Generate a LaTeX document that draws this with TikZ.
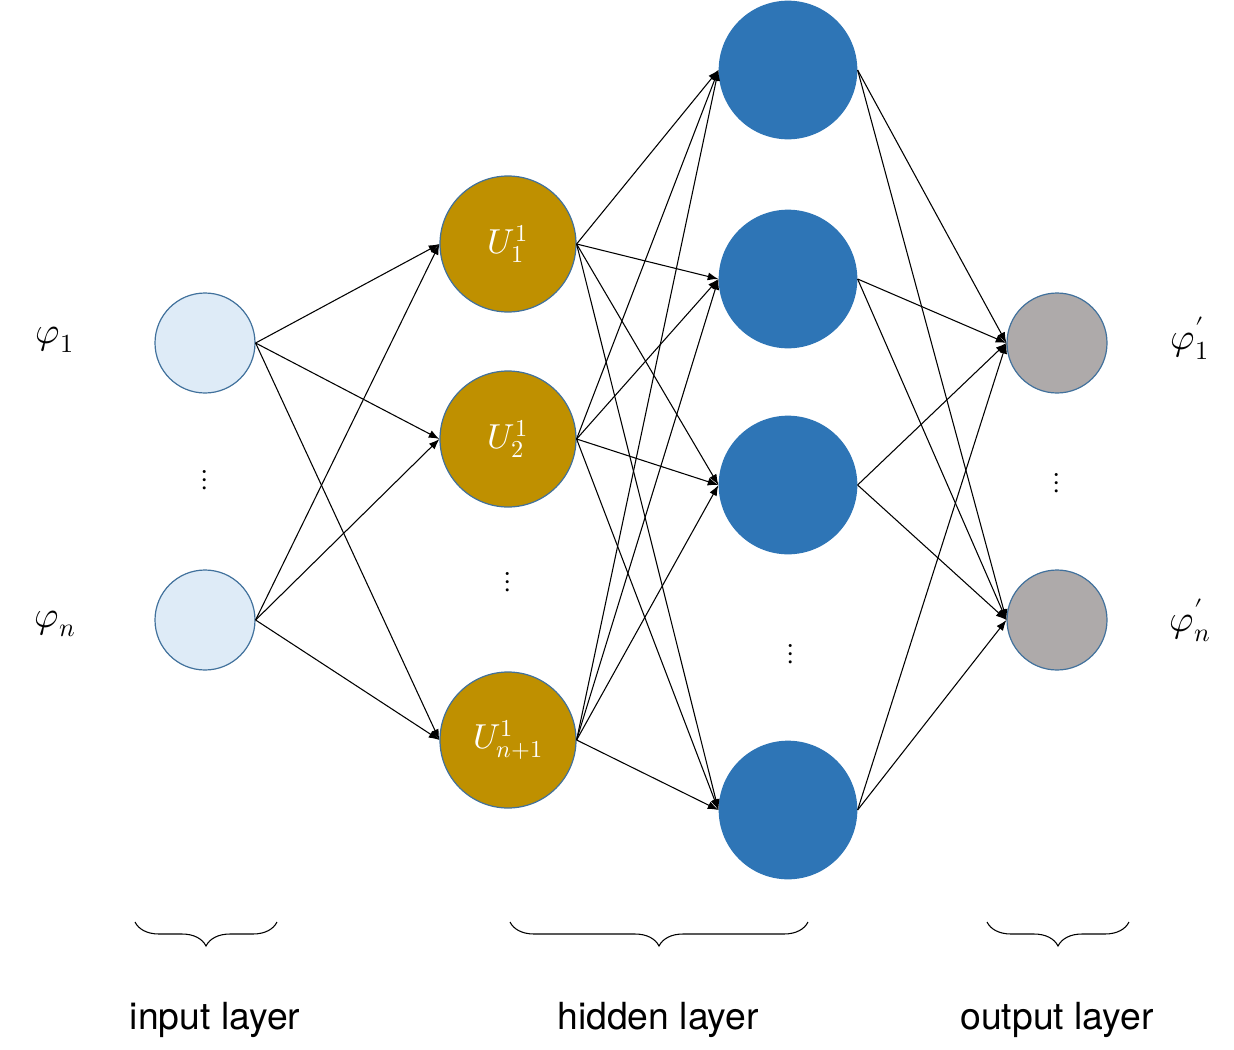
\documentclass[tikz,border=0pt]{standalone}
\usepackage{amsmath}
\usepackage{unicode-math}
\setsansfont{TeX Gyre Heros}
\setmathfont{Latin Modern Math}
\usetikzlibrary{arrows.meta,decorations.pathreplacing}
\definecolor{inblue}{RGB}{222,235,247}
\definecolor{ringblue}{RGB}{65,113,156}
\definecolor{gold}{RGB}{191,144,0}
\definecolor{deepblue}{RGB}{46,117,182}
\definecolor{outgray}{RGB}{174,170,170}
\tikzset{
  inode/.style={circle,draw=ringblue,line width=0.9pt,fill=inblue,minimum size=75pt,inner sep=0pt},
  unode/.style={circle,draw=ringblue,line width=0.9pt,fill=gold,minimum size=102pt,inner sep=0pt,text=white,font=\fontsize{26}{28}\selectfont},
  hnode/.style={circle,fill=deepblue,minimum size=104pt,inner sep=0pt},
  onode/.style={circle,draw=ringblue,line width=0.9pt,fill=outgray,minimum size=75pt,inner sep=0pt},
  link/.style={-{Latex[length=8pt,width=6pt]},line width=0.8pt},
  lbl/.style={font=\fontsize{28}{32}\selectfont},
  layer/.style={font=\sffamily\fontsize{28}{32}\selectfont},
  vdots/.style={font=\fontsize{22}{24}\selectfont}
}
\begin{document}
\begin{tikzpicture}[x=0.75pt,y=0.75pt,yscale=-1,xscale=1]
\useasboundingbox (0,0) rectangle (1234,1049);

% input layer
\node[inode] (in1) at (205,343) {};
\node[inode] (inn) at (205,620) {};
% first hidden layer
\node[unode] (u1) at (508,244) {$U^{1}_{1}$};
\node[unode] (u2) at (508,439) {$U^{1}_{2}$};
\node[unode] (u3) at (508,740) {$U^{1}_{n+1}$};
% second hidden layer
\node[hnode] (h1) at (788,70) {};
\node[hnode] (h2) at (788,279) {};
\node[hnode] (h3) at (788,485) {};
\node[hnode] (h4) at (788,810) {};
% output layer
\node[onode] (out1) at (1057,343) {};
\node[onode] (outn) at (1057,620) {};

% connections
\foreach \s in {in1,inn}
  \foreach \t in {u1,u2,u3}
    \draw[link] (\s.east) -- (\t.west);
\foreach \s in {u1,u2,u3}
  \foreach \t in {h1,h2,h3,h4}
    \draw[link] (\s.east) -- (\t.west);
\foreach \s in {h1,h2,h3,h4}
  \foreach \t in {out1,outn}
    \draw[link] (\s.east) -- (\t.west);

% labels
\node[lbl] (phi1) at (55,340) {$\varphi_1$};
\node[lbl] (phin) at (55,624) {$\varphi_n$};
\node[lbl] (phio1) at (1190,338) {$\varphi'_1$};
\node[lbl] (phion) at (1190,620) {$\varphi'_n$};

% dots
\node[vdots] (d1) at (205,480) {$\vdots$};
\node[vdots] (d2) at (508,582) {$\vdots$};
\node[vdots] (d3) at (791,654) {$\vdots$};
\node[vdots] (d4) at (1057,483) {$\vdots$};

% braces
\draw[line width=0.8pt,decorate,decoration={brace,mirror,amplitude=18pt}] (135,922) -- (277,922);
\draw[line width=0.8pt,decorate,decoration={brace,mirror,amplitude=18pt}] (510,922) -- (808,922);
\draw[line width=0.8pt,decorate,decoration={brace,mirror,amplitude=18pt}] (987,922) -- (1129,922);
\node[layer] (lin) at (215,1020) {input layer};
\node[layer] (lhid) at (658,1020) {hidden layer};
\node[layer] (lout) at (1057,1020) {output layer};
\end{tikzpicture}
\end{document}
